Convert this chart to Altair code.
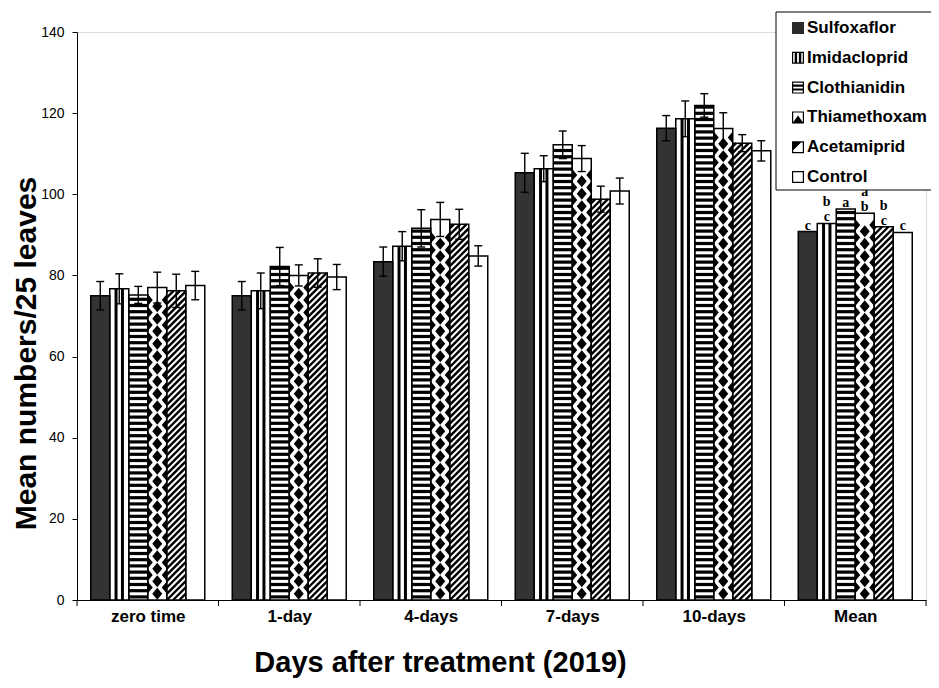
import altair as alt
import pandas as pd

# ---------------- data ----------------
categories = ["zero time", "1-day", "4-days", "7-days", "10-days", "Mean"]
treatments = ["Sulfoxaflor", "Imidacloprid", "Clothianidin", "Thiamethoxam", "Acetamiprid", "Control"]

sulfoxaflor = [75.0, 75.0, 83.4, 105.3, 116.3, 90.8]
imidacloprid = [76.7, 76.2, 87.2, 106.3, 118.6, 92.8]
clothianidin = [75.2, 82.2, 91.6, 112.2, 121.9, 96.4]
thiamethoxam = [77.0, 80.0, 93.8, 108.8, 116.2, 95.3]
acetamiprid = [76.2, 80.6, 92.6, 98.8, 112.6, 92.0]
control = [77.5, 79.6, 84.8, 100.8, 110.7, 90.6]

err_sulfoxaflor = [3.5, 3.5, 3.6, 4.8, 3.1]
err_imidacloprid = [3.7, 4.4, 3.6, 3.2, 4.4]
err_clothianidin = [2.1, 4.7, 4.6, 3.4, 2.9]
err_thiamethoxam = [3.8, 2.6, 4.2, 3.2, 3.9]
err_acetamiprid = [4.1, 3.5, 3.7, 3.2, 2.1]
err_control = [3.5, 3.1, 2.5, 3.2, 2.5]

mean_letters = ["c", "bc", "a", "ab", "bc", "c"]

values = dict(zip(treatments, [sulfoxaflor, imidacloprid, clothianidin, thiamethoxam, acetamiprid, control]))
errors = dict(zip(treatments, [err_sulfoxaflor, err_imidacloprid, err_clothianidin,
                               err_thiamethoxam, err_acetamiprid, err_control]))

# ---------------- layout / style ----------------
W, H = 849, 568
Y_MAX = 140
NG = len(categories)
PX_X = W / NG
PX_Y = H / Y_MAX
BAR_PX = 19.0
BW = BAR_PX / PX_X
FONT = "Liberation Sans"

XS = alt.Scale(domain=[0, NG], nice=False, zero=False)
YS = alt.Scale(domain=[0, Y_MAX], nice=False, zero=False)

rows = []
for gi, cat in enumerate(categories):
    for ti, tr in enumerate(treatments):
        v = values[tr][gi]
        e = errors[tr][gi] if gi < len(errors[tr]) else None
        x0 = gi + 0.5 + (ti - len(treatments) / 2) * BW
        rows.append(dict(category=cat, treatment=tr, value=v, err=e,
                         lo=(v - e) if e else None, hi=(v + e) if e else None,
                         x0=x0, x1=x0 + BW, xc=x0 + BW / 2,
                         c0=x0 + BW / 2 - 4 / PX_X, c1=x0 + BW / 2 + 4 / PX_X, gi=gi))
bars = pd.DataFrame(rows)
errs = bars.dropna(subset=["err"])

# patterns derived from the bars
vstripe, hstripe, hatch, diam = [], [], [], []
for r in rows:
    hpx = r["value"] * PX_Y
    if r["treatment"] == "Imidacloprid":
        for off in (6.3, 12.7):
            vstripe.append(dict(x=r["x0"] + off / PX_X, y=0, y2=r["value"]))
    elif r["treatment"] == "Clothianidin":
        p, k = 6.2, 0
        while (k + 0.5) * p + 1.6 <= hpx:
            hstripe.append(dict(x=r["x0"], x2=r["x1"], y=(k + 0.5) * p / PX_Y))
            k += 1
    elif r["treatment"] == "Acetamiprid":
        c = -BAR_PX
        while c < hpx:
            xs = max(0.0, -c)
            xe = min(BAR_PX, hpx - c)
            if xe > xs:
                hatch.append(dict(x=r["x0"] + xs / PX_X, y=(c + xs) / PX_Y,
                                  x2=r["x0"] + xe / PX_X, y2=(c + xe) / PX_Y))
            c += 6.3
    elif r["treatment"] == "Thiamethoxam":
        p, k = 12.5, 0
        while (k + 1) * p + 6 <= hpx:
            diam.append(dict(x=r["xc"], y=(k + 0.5) * p / PX_Y))
            k += 1

letters = []
for ti, tr in enumerate(treatments):
    s = mean_letters[ti]
    for lvl, ch in enumerate(reversed(s)):
        letters.append(dict(x=bars[(bars.gi == NG - 1) & (bars.treatment == tr)].xc.iloc[0],
                            y=values[tr][NG - 1], t=ch, lvl=lvl))
letters = pd.DataFrame(letters)

# label expression built from the category list
label_expr = "''"
for i in reversed(range(NG)):
    label_expr = f"datum.value < {i + 1} ? '{categories[i]}' : ({label_expr})"

x_axis = alt.Axis(values=[i + 0.5 for i in range(NG)], labelExpr=label_expr,
                  ticks=False, grid=False, domainColor="black", domainWidth=1,
                  labelFont=FONT, labelFontSize=17, labelFontWeight="bold", labelColor="black",
                  labelPadding=8, title="Days after treatment (2019)", titleFont=FONT,
                  titleFontSize=29, titleFontWeight="bold", titleColor="black",
                  titleX=363, titleY=62, titleBaseline="middle", titleAlign="center")
y_axis = alt.Axis(values=list(range(0, Y_MAX + 1, 20)), grid=False, tickSize=5,
                  tickColor="black", domainColor="black", labelFont=FONT, labelFontSize=14,
                  labelColor="black", labelPadding=8, title="Mean numbers/25 leaves",
                  titleFont=FONT, titleFontSize=30, titleFontWeight="bold", titleColor="black",
                  titleX=-51, titleY=321, titleBaseline="middle", titleAlign="center", titleAngle=270)


def X(f):
    return alt.X(f, type="quantitative", scale=XS, axis=x_axis)


def Y(f):
    return alt.Y(f, type="quantitative", scale=YS, axis=y_axis)


fills = ["#333333", "white", "white", "white", "white", "white"]

bar_fill = alt.Chart(bars).mark_bar(strokeWidth=0).encode(
    x=X("x0"), x2="x1", y=Y("value"), y2=alt.datum(0),
    fill=alt.Fill("treatment:N", scale=alt.Scale(domain=treatments, range=fills), legend=None),
)
v_layer = alt.Chart(pd.DataFrame(vstripe)).mark_rule(color="black", strokeWidth=3).encode(
    x=X("x"), y=Y("y"), y2="y2")
h_layer = alt.Chart(pd.DataFrame(hstripe)).mark_rule(color="black", strokeWidth=3.2).encode(
    x=X("x"), x2="x2", y=Y("y"))
hatch_layer = alt.Chart(pd.DataFrame(hatch)).mark_rule(color="black", strokeWidth=2.4).encode(
    x=X("x"), x2="x2", y=Y("y"), y2="y2")
diamond_path = ("M0,-0.632L0.526,0L0,0.632L-0.526,0Z "
                "M-1,-1.29L-0.474,-0.658L-1,-0.026Z "
                "M1,-1.29L0.474,-0.658L1,-0.026Z")
diam_layer = alt.Chart(pd.DataFrame(diam)).mark_point(
    shape=diamond_path, filled=True, color="black", size=BAR_PX ** 2, opacity=1, strokeWidth=0
).encode(x=X("x"), y=Y("y"))
bar_outline = alt.Chart(bars).mark_bar(fillOpacity=0, stroke="black", strokeWidth=1.5).encode(
    x=X("x0"), x2="x1", y=Y("value"), y2=alt.datum(0))
err_v = alt.Chart(errs).mark_rule(color="black", strokeWidth=1.4).encode(
    x=X("xc"), y=Y("lo"), y2="hi")
err_top = alt.Chart(errs).mark_rule(color="black", strokeWidth=1.4).encode(
    x=X("c0"), x2="c1", y=Y("hi"))
err_bot = alt.Chart(errs).mark_rule(color="black", strokeWidth=1.4).encode(
    x=X("c0"), x2="c1", y=Y("lo"))
let0 = alt.Chart(letters[letters.lvl == 0]).mark_text(
    font="Liberation Serif", fontWeight="bold", fontSize=14, baseline="alphabetic", dy=-2, color="black"
).encode(x=X("x"), y=Y("y"), text="t:N")
let1 = alt.Chart(letters[letters.lvl == 1]).mark_text(
    font="Liberation Serif", fontWeight="bold", fontSize=14, baseline="alphabetic", dy=-17, color="black"
).encode(x=X("x"), y=Y("y"), text="t:N")
bticks = alt.Chart(pd.DataFrame({"b": list(range(NG + 1))})).mark_rule(color="black", strokeWidth=1).encode(
    x=X("b:Q"), y=alt.value(H), y2=alt.value(H + 6))

# ---------------- legend (drawn as marks, in pixels of the plot area) ----------------
ring = "M-1,-1H1V1H-1Z M-0.8,-0.8V0.8H0.8V-0.8Z "
legend_paths = [
    "M-1,-1H1V1H-1Z",
    ring + "M-0.55,-0.8H-0.15V0.8H-0.55Z M0.15,-0.8H0.55V0.8H0.15Z",
    ring + "M-0.8,-0.5H0.8V-0.15H-0.8Z M-0.8,0.15H0.8V0.5H-0.8Z",
    ring + "M-0.8,0.8L0,-0.3L0.8,0.8Z",
    ring + "M-0.8,-0.8H0.5L-0.8,0.5Z",
    ring,
]
legend_colors = ["#2a2a2a", "black", "black", "black", "black", "black"]
LEG_X, LEG_Y, LEG_ROW = 699, -20, 29.8
leg_df = pd.DataFrame({"treatment": treatments})
leg_df["sx"] = LEG_X + 22
leg_df["tx"] = LEG_X + 31
leg_df["py"] = [LEG_Y + 16 + LEG_ROW * i for i in range(len(treatments))]

leg_box = alt.Chart(pd.DataFrame({"a": [0]})).mark_rect(
    fill="white", stroke="black", strokeWidth=1
).encode(x=alt.value(LEG_X), x2=alt.value(LEG_X + 190), y=alt.value(LEG_Y),
         y2=alt.value(LEG_Y + 178))
leg_sym = alt.Chart(leg_df).mark_point(filled=True, size=144, strokeWidth=0, opacity=1).encode(
    x=alt.X("sx:Q", scale=None), y=alt.Y("py:Q", scale=None),
    shape=alt.Shape("treatment:N", scale=alt.Scale(domain=treatments, range=legend_paths), legend=None),
    color=alt.Color("treatment:N", scale=alt.Scale(domain=treatments, range=legend_colors), legend=None),
)
leg_txt = alt.Chart(leg_df).mark_text(
    align="left", baseline="middle", font=FONT, fontSize=17, fontWeight="bold", color="black"
).encode(x=alt.X("tx:Q", scale=None), y=alt.Y("py:Q", scale=None), text="treatment:N")

chart = alt.layer(
    bar_fill, v_layer, h_layer, hatch_layer, diam_layer, bar_outline,
    err_v, err_top, err_bot, let0, let1, bticks, leg_box, leg_sym, leg_txt
).properties(
    width=W, height=H,
    autosize=alt.AutoSizeParams(type="none"),
    padding={"left": 69, "top": 24, "right": 5, "bottom": 80},
).configure_view(stroke="#808080", strokeWidth=1).configure(background="white")

chart.save("out.html", embed_options={"renderer": "svg", "actions": False})
